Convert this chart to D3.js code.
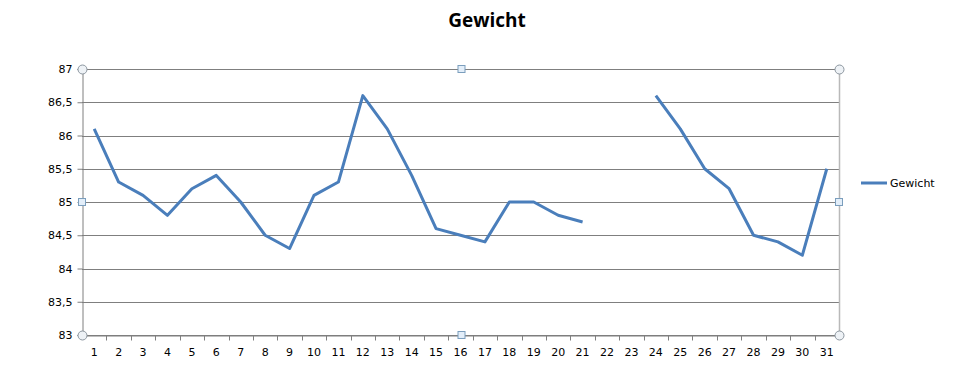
<!DOCTYPE html>
<html>
<head>
<meta charset="utf-8">
<script src="https://cdn.jsdelivr.net/npm/d3@7"></script>
<style>
  body { margin: 0; background: #fff; }
  svg { display: block; }
</style>
</head>
<body>
<div id="chart"></div>
<script>
// Tage 1..31, Lücke an Tag 22 und 23
const days = d3.range(1, 32);
const weights = [86.1, 85.3, 85.1, 84.8, 85.2, 85.4, 85.0, 84.5, 84.3, 85.1,
  85.3, 86.6, 86.1, 85.4, 84.6, 84.5, 84.4, 85.0, 85.0, 84.8,
  84.7, null, null, 86.6, 86.1, 85.5, 85.2, 84.5, 84.4, 84.2, 85.5];
const yTicks = [83, 83.5, 84, 84.5, 85, 85.5, 86, 86.5, 87];
const seriesName = "Gewicht";

const width = 974, height = 368;
const margin = { top: 69, right: 135, bottom: 33, left: 82 };
const innerW = width - margin.left - margin.right;
const innerH = height - margin.top - margin.bottom;
const font = "Tahoma, 'DejaVu Sans', sans-serif";

const svg = d3.select("#chart").append("svg")
  .attr("width", width)
  .attr("height", height);

svg.append("text")
  .attr("x", width / 2)
  .attr("y", 27)
  .attr("text-anchor", "middle")
  .attr("font-family", "'Open Sans', 'DejaVu Sans', sans-serif")
  .attr("font-weight", "bold")
  .attr("font-size", 19)
  .text("Gewicht");

const g = svg.append("g").attr("transform", `translate(${margin.left},${margin.top})`);

const x = d3.scaleBand().domain(days).range([0, innerW]);
const y = d3.scaleLinear().domain([83, 87]).range([innerH, 0]);

const comma = (v) => String(v).replace(".", ",");

// Gitterlinien
g.append("g")
  .selectAll("line")
  .data(yTicks)
  .join("line")
  .attr("x1", 0).attr("x2", innerW)
  .attr("y1", (d) => Math.round(y(d)) + 0.5)
  .attr("y2", (d) => Math.round(y(d)) + 0.5)
  .attr("stroke", "#7f7f7f");

// Y-Achse
const yAxis = g.append("g")
  .attr("transform", "translate(0.5,0)")
  .call(d3.axisLeft(y).tickValues(yTicks).tickSize(5).tickFormat(comma));
yAxis.select(".domain").attr("stroke", "#7f7f7f");
yAxis.selectAll("line").attr("stroke", "#7f7f7f");
yAxis.selectAll("text")
  .attr("font-family", font).attr("font-size", 11).attr("fill", "#000")
  .attr("x", -10);

// X-Achse
const xAxis = g.append("g")
  .attr("transform", `translate(0,${innerH + 0.5})`)
  .call(d3.axisBottom(x).tickSize(0));
xAxis.select(".domain").attr("stroke", "#7f7f7f");
xAxis.selectAll("text")
  .attr("font-family", font).attr("font-size", 11).attr("fill", "#000")
  .attr("dy", "1.6em");
xAxis.append("g")
  .selectAll("line")
  .data(days.slice(1))
  .join("line")
  .attr("x1", (d) => Math.round(x(d)) + 0.5)
  .attr("x2", (d) => Math.round(x(d)) + 0.5)
  .attr("y1", 0).attr("y2", 5)
  .attr("stroke", "#7f7f7f");

// rechter Rahmen (Auswahl)
g.append("line")
  .attr("x1", innerW + 0.5).attr("x2", innerW + 0.5)
  .attr("y1", 0).attr("y2", innerH)
  .attr("stroke", "#b9b9b9").attr("stroke-width", 1.5);

// Linie
const line = d3.line()
  .defined((d) => d != null)
  .x((d, i) => x(days[i]) + x.bandwidth() / 2)
  .y((d) => y(d));

g.append("path")
  .datum(weights)
  .attr("fill", "none")
  .attr("stroke", "#4a7ebb")
  .attr("stroke-width", 3)
  .attr("stroke-linejoin", "round")
  .attr("d", line);

// Auswahl-Griffe
const corners = [[0, 0], [innerW, 0], [0, innerH], [innerW, innerH]];
const mids = [[innerW / 2 + 1, 0], [innerW / 2 + 1, innerH], [0, innerH / 2], [innerW, innerH / 2]];
g.append("g").selectAll("circle")
  .data(corners)
  .join("circle")
  .attr("cx", (d) => d[0] + 0.5).attr("cy", (d) => d[1] + 0.5)
  .attr("r", 4.5)
  .attr("fill", "#eef2f6")
  .attr("stroke", "#8c969f");
g.append("g").selectAll("rect")
  .data(mids)
  .join("rect")
  .attr("x", (d) => d[0] - 3.5).attr("y", (d) => d[1] - 3.5)
  .attr("width", 7).attr("height", 7)
  .attr("fill", "#e3eef9")
  .attr("stroke", "#7b9ebd");

// Legende
const legend = svg.append("g").attr("transform", "translate(861,183)");
legend.append("line")
  .attr("x1", 0).attr("x2", 26)
  .attr("stroke", "#4a7ebb").attr("stroke-width", 3);
legend.append("text")
  .attr("x", 29).attr("y", 4)
  .attr("font-family", font).attr("font-size", 11)
  .text(seriesName);
</script>
</body>
</html>
